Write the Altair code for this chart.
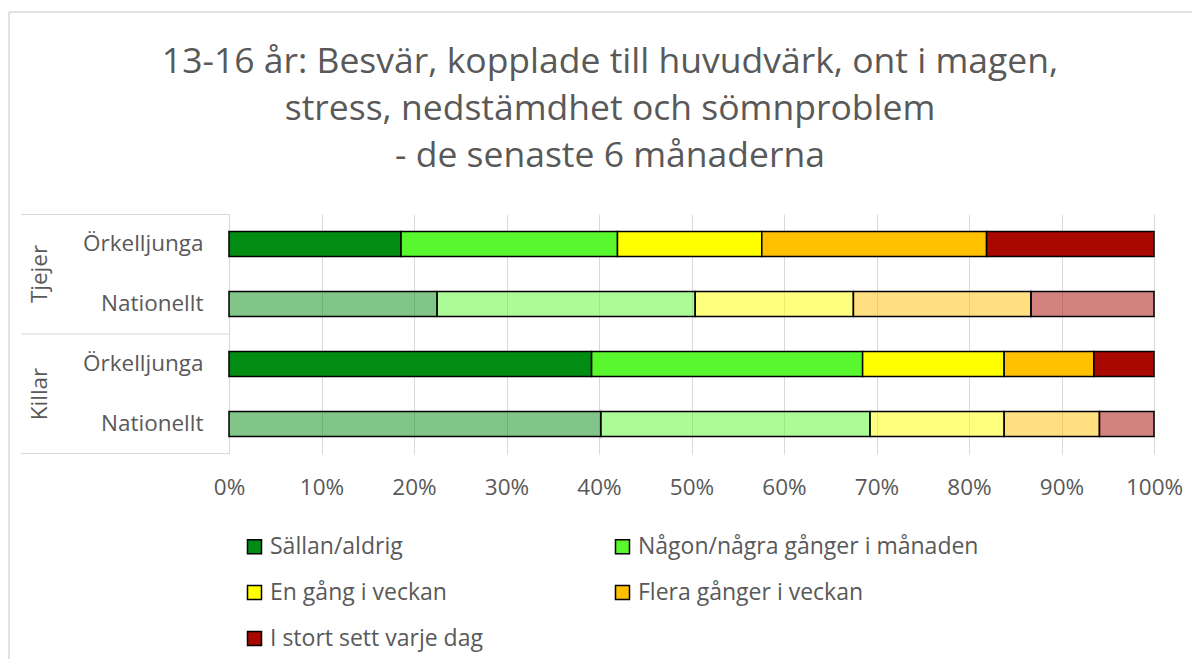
import altair as alt
import pandas as pd

# ---- data ----
title_lines = [
    "13-16 år: Besvär, kopplade till huvudvärk, ont i magen,",
    "stress, nedstämdhet och sömnproblem",
    "- de senaste 6 månaderna",
]
groups = ["Tjejer", "Tjejer", "Killar", "Killar"]
places = ["Örkelljunga", "Nationellt", "Örkelljunga", "Nationellt"]
categories = [
    "Sällan/aldrig",
    "Någon/några gånger i månaden",
    "En gång i veckan",
    "Flera gånger i veckan",
    "I stort sett varje dag",
]
sallan = [18.6, 22.5, 39.2, 40.2]
nagon = [23.4, 27.9, 29.3, 29.1]
engang = [15.6, 17.1, 15.3, 14.5]
flera = [24.3, 19.2, 9.7, 10.3]
varje = [18.1, 13.3, 6.5, 5.9]
colors = ["#038C13", "#59F72D", "#FFFF00", "#FFC000", "#A80800"]
group_names = ["Tjejer", "Killar"]

series = [sallan, nagon, engang, flera, varje]
rows = []
for ci, (cat, vals) in enumerate(zip(categories, series)):
    for g, p, v in zip(groups, places, vals):
        rows.append({"row": f"{g}|{p}", "place": p, "cat": cat, "order": ci, "value": v / 100})
df = pd.DataFrame(rows)
row_order = [f"{g}|{p}" for g, p in zip(groups, places)]

# legend fills columns first: reorder so it reads row by row like the original
legend_idx = [0, 2, 4, 1, 3]
legend_domain = [categories[i] for i in legend_idx]
legend_range = [colors[i] for i in legend_idx]

FONT = "Open Sans"
GREY = "#595959"
LINE = "#D9D9D9"
LBL = 22.5

bars = alt.Chart(df).mark_bar(stroke="#000000", strokeWidth=1.5).encode(
    y=alt.Y("row:N", sort=row_order,
            scale=alt.Scale(paddingInner=35 / 60, paddingOuter=35 / 120),
            axis=alt.Axis(title=None, labelExpr="split(datum.value, '|')[1]",
                          ticks=False, labelPadding=26, labelFontSize=LBL,
                          labelColor=GREY, labelFont=FONT, domainColor=LINE,
                          domainWidth=1, grid=False)),
    x=alt.X("value:Q", stack="zero", scale=alt.Scale(domain=[0, 1], nice=False),
            axis=alt.Axis(title=None, format=".0%", values=[i / 10 for i in range(11)],
                          grid=True, gridColor=LINE, gridWidth=1, domain=False,
                          ticks=False, labelPadding=22, labelFontSize=LBL,
                          labelFlush=False, labelOverlap=False,
                          labelColor=GREY, labelFont=FONT)),
    color=alt.Color("cat:N",
                    scale=alt.Scale(domain=legend_domain, range=legend_range),
                    legend=alt.Legend(title=None, orient="none", legendX=14, legendY=321,
                                      columns=2, symbolType="square", symbolSize=196,
                                      symbolStrokeColor="#000000", symbolStrokeWidth=1.5,
                                      labelFontSize=23, labelColor=GREY, labelFont=FONT,
                                      labelOffset=4, rowPadding=22, columnPadding=0,
                                      gridAlign="all", labelLimit=600)),
    fillOpacity=alt.FillOpacity("place:N", scale=alt.Scale(domain=["Örkelljunga", "Nationellt"],
                                                           range=[1, 0.5]), legend=None),
    order=alt.Order("order:Q"),
)

one = pd.DataFrame({"k": [0]})

# outer chart frame
frame_left = alt.Chart(one).mark_rule(color=LINE, strokeWidth=1.5).encode(
    x=alt.value(-220), y=alt.value(-202), y2=alt.value(460))
frame_top = alt.Chart(one).mark_rule(color=LINE, strokeWidth=1.5).encode(
    x=alt.value(-220), x2=alt.value(980), y=alt.value(-202))

# category group box lines
box_lines = [
    alt.Chart(one).mark_rule(color=LINE, strokeWidth=1).encode(
        x=alt.value(-208), x2=alt.value(0), y=alt.value(yv))
    for yv in (0.5, 120, 239.5)
]

group_labels = [
    alt.Chart(pd.DataFrame({"g": [name]})).mark_text(
        angle=270, align="center", baseline="middle", fontSize=LBL, font=FONT, color=GREY
    ).encode(text="g:N", x=alt.value(-189), y=alt.value(yv))
    for name, yv in zip(group_names, (60, 180))
]

title = alt.Chart(one).mark_text(
    align="center", baseline="alphabetic", fontSize=35.5, font=FONT, color=GREY, lineHeight=47
).encode(text=alt.value(title_lines), x=alt.value(381), y=alt.value(-141))

chart = alt.layer(
    frame_left, frame_top, *box_lines, bars, *group_labels, title
).properties(
    width=925, height=240,
    autosize=alt.AutoSizeParams(type="none"),
    padding={"left": 221, "top": 206, "right": 38, "bottom": 205},
).configure_view(stroke=None)

chart.save("out.html", embed_options={"renderer": "svg", "actions": False})
